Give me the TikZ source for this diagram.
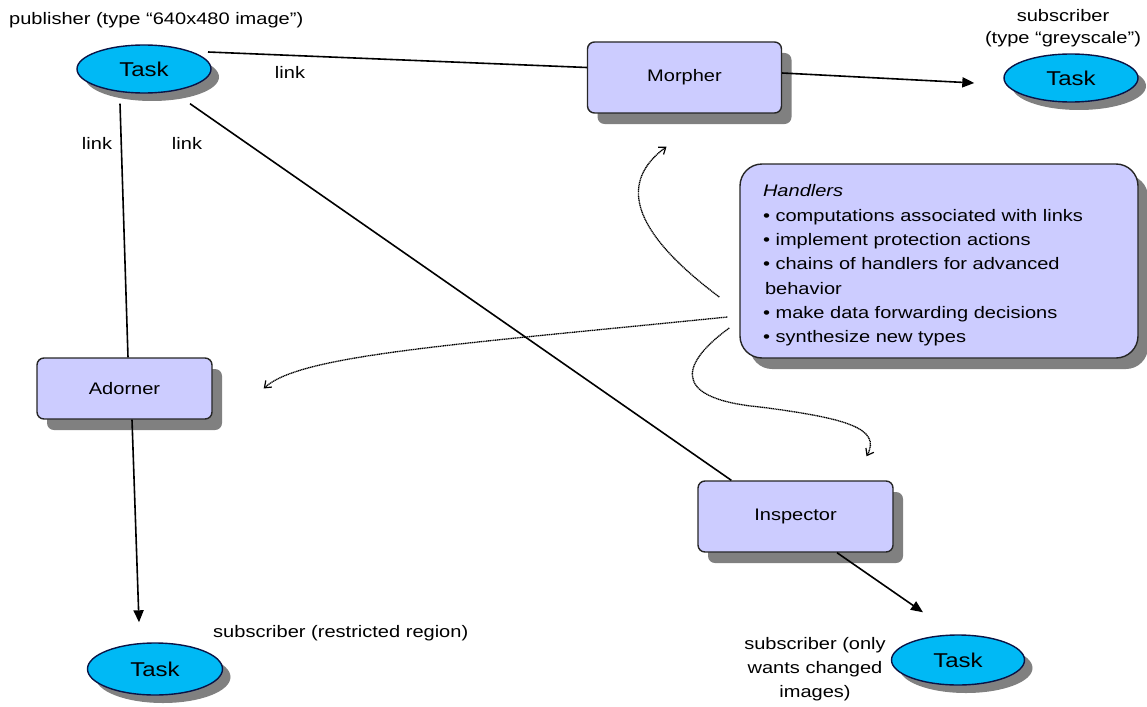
\documentclass[tikz,border=0pt]{standalone}
\usepackage{fontspec}
\setmainfont{Liberation Sans}[FakeStretch=1.2]
\usetikzlibrary{shapes.geometric,arrows.meta,shadows,calc}
\definecolor{taskblue}{RGB}{0,185,245}
\definecolor{taskline}{RGB}{10,20,70}
\definecolor{boxfill}{RGB}{204,204,255}
\definecolor{shadowgray}{RGB}{128,128,128}

\begin{document}
\begin{tikzpicture}[x=1pt,y=-1pt,
  task/.style={ellipse, draw=taskline, line width=1.4pt, fill=taskblue,
    minimum width=134pt, minimum height=48pt, inner sep=0pt,
    font=\fontsize{20}{24}\selectfont,
    drop shadow={shadow xshift=8pt, shadow yshift=-8pt, fill=shadowgray, opacity=1}},
  module/.style={rectangle, rounded corners=7pt, draw=black!85, line width=1.4pt,
    fill=boxfill, inner sep=0pt, font=\fontsize{16.7}{20}\selectfont,
    drop shadow={shadow xshift=10pt, shadow yshift=-11pt, fill=shadowgray, opacity=1}},
  lbl/.style={inner sep=0pt, font=\fontsize{16.7}{22}\selectfont},
  link/.style={line width=1.6pt, black},
  flow/.style={link, -{Triangle[length=12pt,width=10pt]}},
  note/.style={line width=1.3pt, dash pattern=on 1.2pt off 0.6pt,
    -{Straight Barb[length=6pt,width=9pt,line width=1.2pt]}}
]
\useasboundingbox (0,0) rectangle (1147,706);

% tasks
\node[task] (pub) at (144,69) {Task};
\node[task] (grey) at (1071,78) {Task};
\node[task, minimum width=135pt, minimum height=52pt] (rsub) at (155,669) {Task};
\node[task, minimum width=133pt, minimum height=50pt] (csub) at (958,660) {Task};

% handler modules
\node[module, minimum width=194pt, minimum height=71pt] (mor) at (684.5,77.5) {Morpher};
\node[module, minimum width=175pt, minimum height=61pt] (ado) at (124.5,388.5) {Adorner};
\node[module, minimum width=195pt, minimum height=71pt] (insp) at (795.5,516.5) {Inspector};

% explanation box (the strut on the first line lowers the text block a little)
\node[module, rounded corners=22pt, minimum width=398pt, minimum height=194pt,
      text width=352pt, align=left, font=\fontsize{16.7}{24.3}\selectfont] (hnd) at (939,261)
  {\rule{0pt}{21pt}\textit{Handlers}\\
   • computations associated with links\\
   • implement protection actions\\
   • chains of handlers for advanced\\
   \hspace*{2pt}behavior\\
   • make data forwarding decisions\\
   • synthesize new types};

% labels
\node[lbl, anchor=base west] (publbl) at (9,25) {publisher (type “640x480 image”)};
\node[lbl, align=center, font=\fontsize{16.7}{21.5}\selectfont] (greylbl) at (1063,28)
  {subscriber\\(type “greyscale”)};
\node[lbl] (l1) at (290,72) {link};
\node[lbl] (l2) at (97,143) {link};
\node[lbl] (l3) at (187,143) {link};
\node[lbl, anchor=west] (rlbl) at (213,633) {subscriber (restricted region)};
\node[lbl, align=center, font=\fontsize{16.7}{23.7}\selectfont] (clbl) at (815,669)
  {subscriber (only\\wants changed\\images)};

% links
\draw[link] ($(pub.center)+(64,-17)$) -- ($(mor.west)+(0,-10)$);
\draw[flow] ($(mor.east)+(0,-4.5)$) -- ($(grey.west)+(-29,5)$);
\draw[link] ($(pub.south)+(-24,10)$) -- ($(ado.north)+(3.5,0)$);
\draw[link] ($(pub.south)+(46,10)$) -- ($(insp.north west)+(34,0)$);
\draw[flow] ($(ado.south)+(7.5,0)$) -- ($(rsub.north)+(-16,-20)$);
\draw[flow] ($(insp.south)+(41.5,0)$) -- ($(csub.north)+(-35,-22)$);

% handler annotations
\draw[note] ($(hnd.west)+(-20,36)$) .. controls (650,245) and (608,190) .. ($(mor.south)+(-18,33)$);
\draw[note] ($(hnd.west)+(-12,56)$) .. controls (450,345) and (300,355) .. ($(ado.east)+(51,0)$);
\draw[note] ($(hnd.west)+(-10,67)$) .. controls (685,360) and (665,398) .. (760,407)
  .. controls (845,418) and (882,428) .. ($(insp.north)+(71,-24)$);
\end{tikzpicture}
\end{document}
